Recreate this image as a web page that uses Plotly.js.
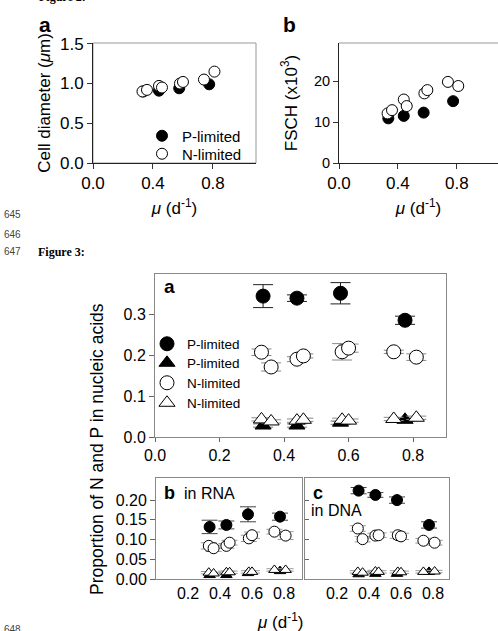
<!DOCTYPE html>
<html>
<head>
<meta charset="utf-8">
<script src="https://cdn.plot.ly/plotly-3.0.1.min.js"></script>
<style>
  html, body { margin: 0; padding: 0; background: #fff; }
  #fig { width: 498px; height: 631px; }
</style>
</head>
<body>
<div id="fig"></div>
<script>
// Growth rates (d-1) of the P-limited and N-limited cultures
const muP = [0.335, 0.44, 0.575, 0.775];
const muN = [0.33, 0.36, 0.44, 0.46, 0.58, 0.60, 0.74, 0.81];

// Figure 2a: cell diameter (um)
const diamP = [0.90, 0.91, 0.94, 0.99];
const diamPerr = [0.01, 0.01, 0.015, 0.01];
const diamN = [0.90, 0.92, 0.97, 0.95, 1.00, 1.02, 1.05, 1.15];
const diamNerr = [0.02, 0.02, 0.02, 0.02, 0.03, 0.02, 0.02, 0.03];

// Figure 2b: forward scatter (x10^3)
const fschP = [10.9, 11.5, 12.3, 15.1];
const fschPerr = [0.3, 0.3, 0.3, 0.4];
const fschN = [12.1, 12.9, 15.5, 13.9, 17.0, 17.8, 19.8, 18.8];
const fschNerr = [0.6, 0.6, 0.8, 0.7, 0.9, 0.7, 0.5, 0.9];

// Figure 3a: proportion in nucleic acids (circles = P, triangles = N)
const allCircP = [0.344, 0.339, 0.351, 0.285];
const allCircPerr = [0.028, 0.008, 0.026, 0.010];
const allTriP = [0.028, 0.028, 0.035, 0.042];
const allTriPerr = [0.004, 0.004, 0.004, 0.004];
const allCircN = [0.207, 0.171, 0.190, 0.198, 0.208, 0.217, 0.208, 0.195];
const allCircNerr = [0.008, 0.010, 0.006, 0.005, 0.020, 0.010, 0.004, 0.008];
const allTriN = [0.043, 0.038, 0.040, 0.042, 0.042, 0.040, 0.044, 0.047];
const allTriNerr = [0.004, 0.004, 0.004, 0.004, 0.004, 0.004, 0.004, 0.004];

// Figure 3b: in RNA
const rnaCircP = [0.132, 0.137, 0.164, 0.158];
const rnaCircPerr = [0.017, 0.010, 0.019, 0.009];
const rnaTriP = [0.010, 0.010, 0.015, 0.020];
const rnaCircN = [0.084, 0.078, 0.084, 0.092, 0.103, 0.111, 0.120, 0.110];
const rnaCircNerr = [0.008, 0.008, 0.006, 0.006, 0.008, 0.008, 0.006, 0.010];
const rnaTriN = [0.016, 0.014, 0.017, 0.017, 0.018, 0.018, 0.023, 0.023];
const rnaTriErr = [0.003, 0.003, 0.003, 0.003, 0.003, 0.003, 0.003, 0.003];

// Figure 3c: in DNA
const dnaCircP = [0.224, 0.213, 0.200, 0.137];
const dnaCircPerr = [0.008, 0.006, 0.008, 0.008];
const dnaTriP = [0.012, 0.013, 0.013, 0.018];
const dnaCircN = [0.128, 0.101, 0.110, 0.111, 0.111, 0.108, 0.097, 0.092];
const dnaCircNerr = [0.007, 0.007, 0.006, 0.006, 0.008, 0.008, 0.006, 0.006];
const dnaTriN = [0.018, 0.016, 0.019, 0.018, 0.018, 0.017, 0.018, 0.019];
const dnaTriErr = [0.003, 0.003, 0.003, 0.003, 0.003, 0.003, 0.003, 0.003];

const W = 498, H = 631;
const px = v => v / W;          // pixel -> paper x
const py = v => 1 - v / H;      // pixel -> paper y
const FONT = 'Arial, "Liberation Sans", sans-serif';
const SERIF = '"Liberation Serif", "Times New Roman", serif';

function errs(arr, color, width) {
  return { type: 'data', array: arr, visible: true, color: color, thickness: 1, width: width };
}
function filled(symbol, size) {
  return { symbol: symbol, size: size, color: '#000', line: { color: '#000', width: 1 } };
}
function open(symbol, size) {
  return { symbol: symbol, size: size, color: '#fff', line: { color: '#000', width: 1 } };
}
function pts(x, y, err, marker, ax, errColor, capW, extra) {
  const t = Object.assign({
    type: 'scatter', mode: 'markers', x: x, y: y, marker: marker,
    xaxis: ax[0], yaxis: ax[1], cliponaxis: false, hoverinfo: 'skip', showlegend: false
  }, extra || {});
  if (err) t.error_y = errs(err, errColor, capW);
  return t;
}

const traces = [
  // Figure 2a
  pts(muP, diamP, diamPerr, filled('circle', 11), ['x', 'y'], '#555', 5,
      { name: 'P-limited', showlegend: true, legend: 'legend' }),
  pts(muN, diamN, diamNerr, open('circle', 11), ['x', 'y'], '#999', 5,
      { name: 'N-limited', showlegend: true, legend: 'legend2' }),
  // Figure 2b
  pts(muP, fschP, fschPerr, filled('circle', 11), ['x2', 'y2'], '#555', 5),
  pts(muN, fschN, fschNerr, open('circle', 11), ['x2', 'y2'], '#999', 5),
  // Figure 3a
  pts(muP, allCircP, allCircPerr, filled('circle', 14), ['x3', 'y3'], '#222', 10,
      { name: 'P-limited', showlegend: true, legend: 'legend3' }),
  pts(muP, allTriP, allTriPerr, filled('triangle-up', 14), ['x3', 'y3'], '#777', 10,
      { name: 'P-limited', showlegend: true, legend: 'legend4' }),
  pts(muN, allCircN, allCircNerr, open('circle', 14), ['x3', 'y3'], '#888', 10,
      { name: 'N-limited', showlegend: true, legend: 'legend5' }),
  pts(muN, allTriN, allTriNerr, open('triangle-up', 14), ['x3', 'y3'], '#888', 10,
      { name: 'N-limited', showlegend: true, legend: 'legend6' }),
  // Figure 3b (RNA)
  pts(muP, rnaCircP, rnaCircPerr, filled('circle', 11), ['x4', 'y4'], '#444', 8),
  pts(muP, rnaTriP, null, filled('triangle-up', 10), ['x4', 'y4'], '#444', 8),
  pts(muN, rnaCircN, rnaCircNerr, open('circle', 11), ['x4', 'y4'], '#999', 8),
  pts(muN, rnaTriN, rnaTriErr, open('triangle-up', 10), ['x4', 'y4'], '#999', 8),
  // Figure 3c (DNA)
  pts(muP, dnaCircP, dnaCircPerr, filled('circle', 11), ['x5', 'y5'], '#444', 8),
  pts(muP, dnaTriP, null, filled('triangle-up', 10), ['x5', 'y5'], '#444', 8),
  pts(muN, dnaCircN, dnaCircNerr, open('circle', 11), ['x5', 'y5'], '#999', 8),
  pts(muN, dnaTriN, dnaTriErr, open('triangle-up', 10), ['x5', 'y5'], '#999', 8)
];

function axis(domain, range, opts) {
  return Object.assign({
    domain: domain, range: range, showgrid: false, zeroline: false,
    showline: true, linecolor: '#222', linewidth: 1,
    ticks: 'outside', ticklen: 5, tickcolor: '#333', tickwidth: 1,
    fixedrange: true
  }, opts);
}

const f2tick = { family: FONT, size: 17, color: '#000' };
const f2ytickB = { family: FONT, size: 14.5, color: '#000' };
const f3tick = { family: FONT, size: 16, color: '#000' };
const f2title = { family: FONT, size: 17, color: '#000' };

// one legend per entry so each row sits where it belongs
function legendAt(xPix, rowPix, size) {
  return {
    x: px(xPix), y: py(rowPix - 15.5), xanchor: 'left', yanchor: 'top',
    bgcolor: 'rgba(0,0,0,0)', borderwidth: 0, font: { family: FONT, size: size, color: '#000' },
    itemsizing: 'trace'
  };
}

function note(text, xPix, yPix, size, extra) {
  return Object.assign({
    text: text, xref: 'paper', yref: 'paper', x: px(xPix), y: py(yPix),
    xanchor: 'left', yanchor: 'middle', showarrow: false,
    font: { family: FONT, size: size, color: '#000' }
  }, extra || {});
}

const lineNo = { family: FONT, size: 10, color: '#444' };

const layout = {
  width: W, height: H,
  margin: { l: 0, r: 0, t: 0, b: 0 },
  paper_bgcolor: '#fff', plot_bgcolor: 'rgba(0,0,0,0)',
  font: { family: FONT, color: '#000' },
  showlegend: true,
  // Figure 2a
  xaxis: axis([px(93), px(256)], [0, 1.087],
    { anchor: 'y', tickvals: [0, 0.4, 0.8], ticktext: ['0.0', '0.4', '0.8'], tickfont: f2tick,
      title: { text: '<i>μ</i> (d<sup>-1</sup>)', font: f2title, standoff: 9 } }),
  yaxis: axis([py(163), py(43)], [0, 1.51],
    { anchor: 'x', tickvals: [0, 0.5, 1.0, 1.5], ticktext: ['0.0', '0.5', '1.0', '1.5'], tickfont: f2tick,
      title: { text: 'Cell diameter (<i>μ</i>m)', font: f2title, standoff: 5 } }),
  // Figure 2b
  xaxis2: axis([px(339), 1], [0, 1.08],
    { anchor: 'y2', tickvals: [0, 0.4, 0.8], ticktext: ['0.0', '0.4', '0.8'], tickfont: f2tick,
      title: { text: '<i>μ</i> (d<sup>-1</sup>)', font: f2title, standoff: 9 } }),
  yaxis2: axis([py(163), py(43)], [0, 29.3],
    { anchor: 'x2', tickvals: [0, 10, 20], tickfont: f2ytickB,
      title: { text: 'FSCH (x10<sup>3</sup>)', font: f2title, standoff: 12 } }),
  // Figure 3a
  xaxis3: axis([px(155), px(446)], [0, 0.902],
    { anchor: 'y3', linecolor: '#888', mirror: true, tickvals: [0, 0.2, 0.4, 0.6, 0.8],
      ticktext: ['0.0', '0.2', '0.4', '0.6', '0.8'], tickfont: f3tick, ticklen: 4, tickcolor: '#666' }),
  yaxis3: axis([py(437), py(274)], [0, 0.398],
    { anchor: 'x3', linecolor: '#888', mirror: true, tickvals: [0, 0.1, 0.2, 0.3],
      ticktext: ['0.0', '0.1', '0.2', '0.3'], tickfont: f3tick, ticklen: 5, tickcolor: '#666' }),
  // Figure 3b
  xaxis4: axis([px(156), px(302)], [0, 0.9125],
    { anchor: 'y4', linecolor: '#888', mirror: true, tickvals: [0.2, 0.4, 0.6, 0.8],
      ticktext: ['0.2', '0.4', '0.6', '0.8'], tickfont: f3tick, ticklen: 0, tickcolor: '#666' }),
  yaxis4: axis([py(579), py(478)], [0, 0.256],
    { anchor: 'x4', linecolor: '#888', mirror: true, tickvals: [0, 0.05, 0.1, 0.15, 0.2],
      ticktext: ['0.00', '0.05', '0.10', '0.15', '0.20'], tickfont: f3tick, ticklen: 5, tickcolor: '#666' }),
  // Figure 3c
  xaxis5: axis([px(305), px(449)], [0, 0.9],
    { anchor: 'y5', linecolor: '#888', mirror: true, tickvals: [0.2, 0.4, 0.6, 0.8],
      ticktext: ['0.2', '0.4', '0.6', '0.8'], tickfont: f3tick, ticklen: 0, tickcolor: '#666' }),
  yaxis5: axis([py(579), py(478)], [0, 0.256],
    { anchor: 'x5', linecolor: '#888', mirror: true, tickvals: [0.05, 0.1, 0.15, 0.2],
      showticklabels: false, ticks: 'inside', ticklen: 4, tickcolor: '#666' }),
  legend: legendAt(142, 135, 15),
  legend2: legendAt(142, 153, 15),
  legend3: legendAt(147, 344, 13.5),
  legend4: legendAt(147, 363, 13.5),
  legend5: legendAt(147, 383, 13.5),
  legend6: legendAt(147, 403, 13.5),
  shapes: [
    // light frame around Figure 2a
    { type: 'rect', xref: 'x domain', yref: 'y domain', x0: 0, x1: 1, y0: 0, y1: 1,
      line: { color: '#999', width: 1 }, layer: 'below' },
    // top edge of Figure 2b frame
    { type: 'line', xref: 'x2 domain', yref: 'y2 domain', x0: 0, x1: 1, y0: 1, y1: 1,
      line: { color: '#999', width: 1 }, layer: 'below' }
  ],
  annotations: [
    // document line numbers and figure captions
    note('644', 2, -3, 10, { font: lineNo }),
    note('<b>Figure 2:</b>', 37, -3, 12, { font: { family: SERIF, size: 12, color: '#000' } }),
    note('645', 2, 215, 10, { font: lineNo }),
    note('646', 2, 234, 10, { font: lineNo }),
    note('647', 2, 252, 10, { font: lineNo }),
    note('<b>Figure 3:</b>', 36, 252, 12, { font: { family: SERIF, size: 12, color: '#000' } }),
    note('648', 2, 629, 10, { font: lineNo }),

    // Figure 2 panel letters
    note('<b>a</b>', 37, 24, 21),
    note('<b>b</b>', 281, 24, 21),

    // Figure 3 panel letters, labels and shared axis titles
    note('<b>a</b>', 162, 287, 19),
    note('<b>b</b>', 162, 493, 18),
    note('in RNA', 182, 494, 16),
    note('<b>c</b>', 311, 493, 18),
    note('in DNA', 309, 510, 16),
    note('Proportion of N and P in nucleic acids', 97, 449, 17.5, { textangle: -90, xanchor: 'center' }),
    note('<i>μ</i> (d<sup>-1</sup>)', 280, 621, 17, { xanchor: 'center' })
  ]
};

Plotly.newPlot('fig', traces, layout, { staticPlot: true, displayModeBar: false });
</script>
</body>
</html>
